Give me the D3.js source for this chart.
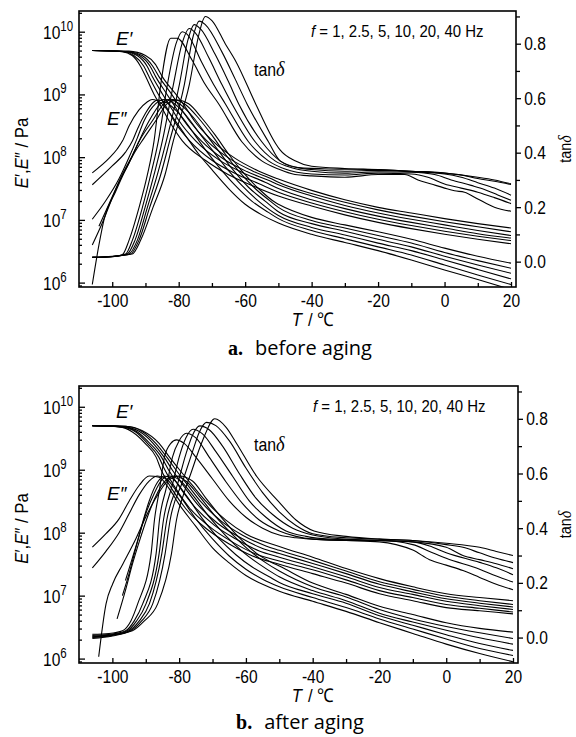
<!DOCTYPE html>
<html>
<head>
<meta charset="utf-8">
<script src="https://cdn.jsdelivr.net/npm/d3@7"></script>
<style>
  body { margin: 0; background: #fff; }
  svg { display: block; }
</style>
</head>
<body>
<svg id="chart" width="576" height="737"></svg>
<script>
const freqs = [1, 2.5, 5, 10, 20, 40];
const tempTicks = [-100, -80, -60, -40, -20, 0, 20];
const tempMinor = [-90, -70, -50, -30, -10, 10];
const tanTicks = [0.0, 0.2, 0.4, 0.6, 0.8];
const tanMinor = [0.1, 0.3, 0.5, 0.7, 0.9];
const modExponents = [6, 7, 8, 9, 10];

// log10(E' / Pa) vs T, one array per frequency (1 ... 40 Hz), before aging
const beforeStorageLog = [
  [[-106,9.70],[-97,9.68],[-94,9.62],[-91.5,9.45],[-89.9,9.28],[-87.4,9.0],[-85,8.78],[-82.9,8.58],[-78.9,8.26],[-72,7.95],[-65,7.72],[-58,7.55],[-50,7.38],[-40,7.22],[-30,7.08],[-20,6.96],[-10,6.86],[0,6.77],[10,6.69],[20,6.62]],
  [[-106,9.70],[-96.5,9.68],[-93.5,9.62],[-90.5,9.45],[-88.9,9.28],[-86.1,9.0],[-83.5,8.78],[-81.4,8.58],[-76.7,8.26],[-70,7.95],[-63,7.74],[-56,7.58],[-50,7.44],[-40,7.27],[-30,7.13],[-20,7.01],[-10,6.91],[0,6.82],[10,6.74],[20,6.67]],
  [[-106,9.70],[-96,9.68],[-92.5,9.62],[-89.5,9.45],[-87.9,9.28],[-84.8,9.0],[-82.2,8.78],[-79.9,8.58],[-74.9,8.26],[-68,7.96],[-61,7.76],[-54,7.6],[-50,7.5],[-40,7.32],[-30,7.18],[-20,7.06],[-10,6.96],[0,6.87],[10,6.78],[20,6.71]],
  [[-106,9.70],[-95.5,9.68],[-91.8,9.62],[-88.6,9.45],[-86.9,9.28],[-83.5,9.0],[-80.8,8.78],[-78.4,8.58],[-73.2,8.26],[-66.5,7.97],[-59.5,7.77],[-53,7.63],[-50,7.56],[-40,7.38],[-30,7.23],[-20,7.11],[-10,7.01],[0,6.92],[10,6.83],[20,6.75]],
  [[-106,9.70],[-95,9.68],[-91,9.62],[-87.8,9.45],[-85.9,9.28],[-82.1,9.0],[-79.4,8.78],[-76.8,8.58],[-71.5,8.26],[-64.8,7.98],[-57.8,7.78],[-51.5,7.64],[-50,7.6],[-40,7.42],[-30,7.28],[-20,7.16],[-10,7.06],[0,6.97],[10,6.89],[20,6.81]],
  [[-106,9.70],[-95,9.69],[-90,9.62],[-87,9.48],[-84.9,9.28],[-80.8,9.0],[-78,8.8],[-75.3,8.58],[-69.8,8.26],[-63,7.98],[-56,7.78],[-50,7.65],[-40,7.47],[-30,7.32],[-20,7.2],[-10,7.11],[0,7.02],[10,6.94],[20,6.87]]
];

// log10(E'' / Pa), before aging
const beforeLossLog = [
  [[-106,7.75],[-101,7.98],[-98.5,8.13],[-96.9,8.26],[-94.9,8.5],[-92,8.75],[-89.5,8.88],[-88,8.92],[-85,8.85],[-82,8.65],[-78,8.35],[-74,8.05],[-70,7.8],[-65,7.5],[-60,7.25],[-55,7.08],[-50,6.95],[-40,6.77],[-30,6.64],[-20,6.51],[-10,6.36],[0,6.2],[10,6.05],[20,5.89]],
  [[-106,7.56],[-100,7.86],[-96,8.08],[-93.9,8.26],[-92.4,8.45],[-90,8.7],[-87.5,8.88],[-86.4,8.91],[-84,8.88],[-80,8.7],[-76,8.42],[-72,8.12],[-68,7.85],[-63,7.55],[-58,7.3],[-53,7.12],[-50,7.02],[-40,6.83],[-30,6.7],[-20,6.57],[-10,6.44],[0,6.28],[10,6.12],[20,5.97]],
  [[-106,7.01],[-102,7.3],[-98,7.65],[-95,7.99],[-92.5,8.3],[-90.4,8.58],[-87,8.85],[-84.4,8.92],[-82,8.88],[-78,8.68],[-74,8.4],[-70,8.12],[-66,7.85],[-61,7.55],[-56,7.3],[-50,7.07],[-40,6.88],[-30,6.76],[-20,6.63],[-10,6.51],[0,6.36],[10,6.21],[20,6.06]],
  [[-104,6.9],[-101,7.25],[-98,7.6],[-95,7.9],[-92,8.25],[-88.9,8.58],[-85.5,8.85],[-83,8.92],[-80,8.86],[-76,8.66],[-72,8.38],[-68,8.1],[-64,7.82],[-59,7.52],[-54,7.3],[-50,7.13],[-40,6.94],[-30,6.82],[-20,6.69],[-10,6.57],[0,6.42],[10,6.28],[20,6.15]],
  [[-106,6.6],[-103,6.95],[-100,7.35],[-97,7.72],[-94,8.02],[-91.4,8.3],[-87.9,8.58],[-84.5,8.85],[-81.8,8.92],[-78,8.84],[-74,8.62],[-70,8.35],[-66,8.05],[-62,7.78],[-57,7.5],[-52,7.28],[-50,7.2],[-40,6.99],[-30,6.87],[-20,6.75],[-10,6.63],[0,6.48],[10,6.35],[20,6.23]],
  [[-106,5.97],[-104,6.6],[-102.4,7.02],[-99,7.45],[-96,7.8],[-93,8.1],[-90.5,8.3],[-86.9,8.58],[-83.5,8.85],[-80.5,8.91],[-77,8.85],[-73,8.62],[-69,8.35],[-65,8.05],[-61,7.78],[-56,7.5],[-51,7.28],[-50,7.25],[-40,7.04],[-30,6.92],[-20,6.81],[-10,6.69],[0,6.55],[10,6.42],[20,6.31]]
];

// tan delta, before aging
const beforeTan = [
  [[-106,0.015],[-100,0.018],[-97,0.025],[-94.9,0.08],[-91.9,0.2],[-89.4,0.32],[-87.4,0.444],[-85.4,0.65],[-82.4,0.82],[-80.5,0.82],[-76,0.74],[-72,0.65],[-67.9,0.578],[-61,0.44],[-55,0.37],[-50,0.34],[-45,0.32],[-40,0.315],[-30,0.31],[-20,0.32],[-12,0.32],[-8,0.3],[-4,0.285],[0,0.27],[3,0.26],[6,0.255],[10,0.23],[15,0.2],[20,0.185]],
  [[-106,0.016],[-100,0.019],[-96,0.028],[-93.9,0.08],[-90.9,0.2],[-88.4,0.32],[-86.1,0.444],[-83.4,0.65],[-80.8,0.8],[-78.9,0.844],[-77.5,0.835],[-73,0.73],[-69,0.64],[-65.9,0.578],[-59,0.44],[-53,0.37],[-48,0.34],[-40,0.322],[-30,0.318],[-20,0.325],[-10,0.322],[-5,0.31],[0,0.285],[5,0.27],[10,0.255],[15,0.235],[20,0.213]],
  [[-106,0.016],[-100,0.019],[-95.5,0.028],[-93.1,0.08],[-90.1,0.2],[-87.4,0.32],[-84.9,0.444],[-81.6,0.65],[-79,0.8],[-76.8,0.856],[-75,0.84],[-71,0.75],[-67,0.65],[-63.9,0.578],[-57,0.44],[-51,0.37],[-46,0.345],[-40,0.332],[-30,0.325],[-20,0.33],[-10,0.328],[-3,0.32],[2,0.3],[8,0.28],[12,0.265],[16,0.245],[20,0.225]],
  [[-106,0.015],[-100,0.018],[-95,0.028],[-92.4,0.08],[-89.4,0.2],[-86.4,0.32],[-83.7,0.444],[-79.8,0.65],[-77.3,0.81],[-75.3,0.87],[-73.5,0.855],[-69,0.76],[-65,0.66],[-61.9,0.578],[-55,0.44],[-49.5,0.37],[-44,0.345],[-40,0.338],[-30,0.332],[-20,0.335],[-10,0.33],[0,0.322],[5,0.31],[10,0.29],[15,0.27],[20,0.244]],
  [[-106,0.016],[-100,0.019],[-94.5,0.028],[-91.9,0.08],[-88.7,0.2],[-85.4,0.32],[-82.7,0.444],[-78.3,0.65],[-75.8,0.82],[-73.8,0.883],[-72,0.87],[-67,0.77],[-63,0.67],[-59.4,0.578],[-53,0.44],[-49.5,0.37],[-44,0.345],[-35,0.34],[-20,0.338],[-10,0.332],[0,0.325],[5,0.318],[10,0.305],[15,0.295],[20,0.283]],
  [[-106,0.017],[-100,0.02],[-94,0.028],[-91.4,0.08],[-87.7,0.2],[-84.1,0.32],[-81.6,0.444],[-76.8,0.65],[-74,0.83],[-72,0.9],[-70,0.885],[-66,0.8],[-62.8,0.735],[-56.8,0.578],[-50.8,0.433],[-49.5,0.41],[-45,0.37],[-40,0.35],[-30,0.342],[-20,0.338],[-10,0.332],[0,0.325],[10,0.31],[15,0.3],[20,0.286]]
];

// log10(E' / Pa), after aging
const afterStorageLog = [
  [[-106,9.70],[-98,9.68],[-94,9.6],[-90.2,9.42],[-86.9,9.2],[-85.4,9.0],[-82,8.68],[-78,8.38],[-72,8.07],[-65,7.82],[-58,7.63],[-50,7.5],[-40,7.35],[-30,7.2],[-20,7.03],[-10,6.92],[0,6.81],[10,6.76],[20,6.71]],
  [[-106,9.70],[-97.5,9.68],[-93,9.6],[-89.5,9.42],[-86.1,9.2],[-84.3,9.0],[-81,8.7],[-77,8.4],[-71,8.1],[-64,7.85],[-57,7.66],[-50,7.55],[-40,7.41],[-30,7.25],[-20,7.08],[-10,6.97],[0,6.86],[10,6.8],[20,6.74]],
  [[-106,9.70],[-97,9.68],[-92.5,9.6],[-88.8,9.42],[-85.3,9.2],[-83.2,9.0],[-79.8,8.72],[-75.5,8.42],[-69.5,8.12],[-63,7.9],[-56,7.71],[-50,7.61],[-40,7.46],[-30,7.3],[-20,7.13],[-10,7.02],[0,6.91],[10,6.84],[20,6.78]],
  [[-106,9.70],[-96.5,9.68],[-92,9.61],[-87.8,9.42],[-84.5,9.2],[-82.1,9.0],[-78.5,8.73],[-74.5,8.45],[-68.5,8.15],[-62,7.93],[-55,7.75],[-50,7.67],[-40,7.51],[-30,7.35],[-20,7.18],[-10,7.06],[0,6.95],[10,6.88],[20,6.82]],
  [[-106,9.70],[-96,9.69],[-91.5,9.62],[-87,9.42],[-83.7,9.2],[-81,9.0],[-77.2,8.74],[-73.3,8.48],[-67.3,8.18],[-61,7.96],[-54,7.79],[-50,7.72],[-40,7.56],[-30,7.39],[-20,7.22],[-10,7.1],[0,6.99],[10,6.92],[20,6.86]],
  [[-106,9.70],[-96,9.69],[-91,9.62],[-86,9.42],[-82.9,9.2],[-79.9,9.0],[-76,8.75],[-72,8.5],[-66,8.2],[-60,7.98],[-50,7.78],[-40,7.61],[-30,7.43],[-20,7.27],[-10,7.14],[0,7.03],[10,6.97],[20,6.92]]
];

// log10(E'' / Pa), after aging
const afterLossLog = [
  [[-106,7.77],[-102,7.98],[-98,8.22],[-95,8.5],[-92,8.75],[-89,8.9],[-86,8.88],[-83,8.7],[-80,8.45],[-75,8.1],[-70,7.76],[-65,7.52],[-60,7.32],[-55,7.18],[-50,7.07],[-40,6.91],[-30,6.75],[-20,6.57],[-10,6.4],[0,6.23],[10,6.08],[20,5.95]],
  [[-106,7.44],[-102,7.7],[-98,8.0],[-95,8.3],[-92,8.6],[-89,8.82],[-86.5,8.9],[-84,8.86],[-80,8.6],[-75,8.22],[-70,7.9],[-65,7.63],[-60,7.42],[-55,7.26],[-50,7.14],[-40,6.97],[-30,6.81],[-20,6.63],[-10,6.47],[0,6.31],[10,6.16],[20,6.05]],
  [[-97,7.0],[-95,7.35],[-93,7.75],[-91,8.15],[-89,8.5],[-86.5,8.8],[-84.5,8.9],[-82,8.86],[-78,8.6],[-73,8.22],[-68,7.9],[-63,7.65],[-58,7.45],[-53,7.3],[-50,7.21],[-40,7.03],[-30,6.88],[-20,6.68],[-10,6.53],[0,6.38],[10,6.24],[20,6.13]],
  [[-96.1,7.24],[-94,7.6],[-92,7.95],[-90,8.3],[-87.5,8.62],[-85,8.85],[-83,8.9],[-80,8.84],[-76,8.6],[-71,8.25],[-66,7.95],[-61,7.7],[-56,7.5],[-51,7.33],[-50,7.3],[-40,7.08],[-30,6.92],[-20,6.72],[-10,6.58],[0,6.45],[10,6.33],[20,6.23]],
  [[-98.6,6.63],[-96,7.1],[-94,7.5],[-92,7.85],[-89.5,8.25],[-87,8.58],[-84,8.83],[-81.5,8.9],[-78,8.82],[-74,8.58],[-69,8.25],[-64,7.97],[-59,7.72],[-54,7.52],[-50,7.39],[-40,7.14],[-30,6.98],[-20,6.78],[-10,6.63],[0,6.51],[10,6.41],[20,6.32]],
  [[-104.1,6.03],[-101.9,6.87],[-99.9,7.19],[-96.9,7.5],[-93,7.9],[-90,8.25],[-87,8.55],[-83.5,8.82],[-80,8.9],[-76,8.82],[-72,8.55],[-67,8.22],[-62,7.92],[-57,7.68],[-52,7.52],[-50,7.47],[-40,7.2],[-30,7.02],[-20,6.83],[-10,6.7],[0,6.57],[10,6.48],[20,6.42]]
];

// tan delta, after aging
const afterTan = [
  [[-106,0.012],[-101,0.015],[-97,0.025],[-94.5,0.06],[-92.4,0.124],[-88.4,0.307],[-87.4,0.43],[-85.9,0.54],[-84.4,0.66],[-82.5,0.71],[-80.8,0.723],[-78.5,0.71],[-75,0.66],[-70,0.58],[-65,0.5],[-60,0.44],[-55,0.4],[-50,0.375],[-45,0.365],[-40,0.36],[-30,0.355],[-20,0.35],[-15,0.34],[-10,0.32],[-5,0.285],[0,0.265],[5,0.245],[10,0.22],[15,0.195],[20,0.175]],
  [[-106,0.008],[-100,0.013],[-96,0.025],[-93.5,0.06],[-90.9,0.124],[-86.9,0.307],[-85.9,0.43],[-83.8,0.55],[-82,0.66],[-80,0.72],[-77.8,0.747],[-75,0.73],[-71,0.66],[-66,0.57],[-61,0.49],[-56,0.43],[-50,0.39],[-45,0.37],[-40,0.36],[-30,0.355],[-20,0.355],[-10,0.34],[-5,0.315],[0,0.29],[10,0.25],[15,0.225],[20,0.203]],
  [[-106,0.003],[-100,0.01],[-95.5,0.025],[-92.8,0.06],[-89.9,0.124],[-86,0.307],[-84.7,0.43],[-82,0.56],[-80,0.66],[-78,0.73],[-75.8,0.762],[-73,0.745],[-69,0.68],[-64,0.59],[-59,0.5],[-54,0.44],[-48,0.39],[-42,0.37],[-35,0.36],[-20,0.355],[-10,0.35],[-5,0.335],[0,0.31],[10,0.275],[15,0.255],[20,0.23]],
  [[-106,0.0],[-100,0.008],[-95,0.025],[-92,0.06],[-88.9,0.124],[-85.2,0.307],[-83.7,0.43],[-80.5,0.56],[-78,0.67],[-76,0.74],[-73.8,0.774],[-71,0.76],[-67,0.7],[-62,0.6],[-57,0.51],[-52,0.45],[-46,0.4],[-40,0.375],[-30,0.36],[-20,0.355],[-10,0.35],[0,0.33],[5,0.3],[10,0.285],[15,0.27],[20,0.252]],
  [[-106,-0.003],[-100,0.006],[-94.5,0.025],[-91.3,0.06],[-87.9,0.124],[-84.2,0.307],[-82.7,0.43],[-79,0.57],[-76,0.68],[-74,0.75],[-71.8,0.787],[-69,0.775],[-65,0.72],[-60,0.62],[-55,0.53],[-50,0.46],[-45,0.41],[-40,0.38],[-30,0.365],[-20,0.36],[-10,0.355],[0,0.34],[5,0.33],[10,0.31],[15,0.29],[20,0.274]],
  [[-106,0.005],[-100,0.01],[-94,0.025],[-90.5,0.06],[-86.4,0.124],[-82.3,0.307],[-80.8,0.43],[-78.5,0.53],[-76.5,0.6],[-73,0.72],[-69.3,0.8],[-66,0.77],[-62.8,0.71],[-56.8,0.59],[-50.4,0.5],[-45,0.43],[-39.6,0.39],[-30,0.37],[-20,0.36],[-10,0.355],[0,0.345],[10,0.33],[15,0.315],[20,0.3]]
];

const panels = [
  {id: "a", caption: "before aging", storage: beforeStorageLog, loss: beforeLossLog, tan: beforeTan,
   top: 11, bottom: 287, left: 79, right: 516, titleGap: 39, capGap: 68},
  {id: "b", caption: "after aging", storage: afterStorageLog, loss: afterLossLog, tan: afterTan,
   top: 386, bottom: 663, left: 79, right: 518, titleGap: 39, capGap: 66}
];

const svg = d3.select("#chart");
const sans = "'Liberation Sans', Arial, sans-serif";
const squeeze = "scale(0.82,1)";

panels.forEach(drawPanel);

function drawPanel(p) {
  const x = d3.scaleLinear().domain([-110, 21.5]).range([p.left, p.right]);
  const yE = d3.scaleLog().domain([10 ** 5.93, 10 ** 10.33]).range([p.bottom, p.top]);
  const yT = d3.scaleLinear().domain([-0.093, 0.92]).range([p.bottom, p.top]);

  const g = svg.append("g");

  g.append("clipPath").attr("id", "clip-" + p.id)
    .append("rect")
    .attr("x", p.left).attr("y", p.top)
    .attr("width", p.right - p.left).attr("height", p.bottom - p.top);

  const lineE = d3.line()
    .x(d => x(d[0]))
    .y(d => yE(10 ** d[1]))
    .curve(d3.curveMonotoneX);

  const lineT = d3.line()
    .x(d => x(d[0]))
    .y(d => yT(d[1]))
    .curve(d3.curveMonotoneX);

  const curves = g.append("g").attr("clip-path", `url(#clip-${p.id})`)
    .attr("fill", "none").attr("stroke", "#000").attr("stroke-width", 1.1);

  curves.selectAll(".storage").data(p.storage).join("path")
    .attr("class", "storage").attr("d", lineE);
  curves.selectAll(".loss").data(p.loss).join("path")
    .attr("class", "loss").attr("d", lineE);
  curves.selectAll(".tan").data(p.tan).join("path")
    .attr("class", "tan").attr("d", lineT);

  // left log axis, ticks pointing into the plot
  const minorE = [9e5];
  modExponents.forEach(e => {
    for (let m = 2; m <= 9; m++) {
      const v = m * 10 ** e;
      if (v < 10 ** 10.33) minorE.push(v);
    }
  });

  const leftMinor = g.append("g").attr("transform", `translate(${p.left},0)`)
    .call(d3.axisLeft(yE).tickValues(minorE).tickSizeInner(-3).tickSizeOuter(0).tickFormat(""));
  const leftMajor = g.append("g").attr("transform", `translate(${p.left},0)`)
    .call(d3.axisLeft(yE).tickValues(modExponents.map(e => 10 ** e)).tickSizeInner(-6).tickSizeOuter(0).tickFormat(""));
  [leftMinor, leftMajor].forEach(a => {
    a.select(".domain").remove();
    a.selectAll("line").attr("stroke-width", 1.3);
  });

  const expLabels = g.selectAll(".exp-label").data(modExponents).join("text")
    .attr("class", "exp-label")
    .attr("transform", e => `translate(43,${yE(10 ** e) + 7}) ${squeeze}`)
    .style("font-family", sans)
    .style("font-size", "19px");
  expLabels.append("tspan").text("10");
  expLabels.append("tspan").attr("dy", -8).style("font-size", "14px").text(e => e);

  // bottom temperature axis
  const bottomMinor = g.append("g").attr("transform", `translate(0,${p.bottom})`)
    .call(d3.axisBottom(x).tickValues(tempMinor).tickSizeInner(-4).tickSizeOuter(0).tickFormat(""));
  const bottomMajor = g.append("g").attr("transform", `translate(0,${p.bottom})`)
    .call(d3.axisBottom(x).tickValues(tempTicks).tickSizeInner(-5).tickSizeOuter(0).tickPadding(7)
      .tickFormat(d => String(d)));
  [bottomMinor, bottomMajor].forEach(a => {
    a.select(".domain").remove();
    a.selectAll("line").attr("stroke-width", 1.3);
  });
  bottomMajor.selectAll("text")
    .attr("transform", squeeze)
    .style("font-family", sans).style("font-size", "19px");

  // right tan delta axis, ticks pointing outward
  const rightMinor = g.append("g").attr("transform", `translate(${p.right},0)`)
    .call(d3.axisRight(yT).tickValues(tanMinor).tickSizeInner(4).tickSizeOuter(0).tickFormat(""));
  const rightMajor = g.append("g").attr("transform", `translate(${p.right},0)`)
    .call(d3.axisRight(yT).tickValues(tanTicks).tickSizeInner(5).tickSizeOuter(0).tickPadding(5)
      .tickFormat(d3.format(".1f")));
  [rightMinor, rightMajor].forEach(a => {
    a.select(".domain").remove();
    a.selectAll("line").attr("stroke-width", 1.3);
  });
  rightMajor.selectAll("text")
    .attr("transform", squeeze)
    .style("font-family", sans).style("font-size", "19px");

  // frame
  g.append("rect")
    .attr("x", p.left).attr("y", p.top)
    .attr("width", p.right - p.left).attr("height", p.bottom - p.top)
    .attr("fill", "none").attr("stroke", "#000").attr("stroke-width", 1.6);

  // axis titles
  const yTitle = g.append("text")
    .attr("transform", `translate(28,${(p.top + p.bottom) / 2 + 4}) rotate(-90) scale(0.88,1)`)
    .attr("text-anchor", "middle")
    .style("font-family", sans).style("font-size", "19px");
  yTitle.append("tspan").style("font-style", "italic").text("E");
  yTitle.append("tspan").text("′,");
  yTitle.append("tspan").style("font-style", "italic").text("E");
  yTitle.append("tspan").text("″ / Pa");

  const tTitle = g.append("text")
    .attr("transform", `translate(571,${(p.top + p.bottom) / 2}) rotate(-90) scale(0.85,1)`)
    .attr("text-anchor", "middle")
    .style("font-family", sans).style("font-size", "17px");
  tTitle.append("tspan").text("tan");
  tTitle.append("tspan").style("font-family", "'Liberation Serif', serif").style("font-style", "italic")
    .style("font-size", "19px").text("δ");

  // x title: italic T, then the unit as a separate text
  g.append("text")
    .attr("transform", `translate(302,${p.bottom + p.titleGap}) scale(0.88,1)`)
    .attr("text-anchor", "end")
    .style("font-family", sans).style("font-size", "19px").style("font-style", "italic")
    .text("T");
  g.append("text")
    .attr("transform", `translate(308,${p.bottom + p.titleGap}) scale(0.88,1)`)
    .style("font-family", sans).style("font-size", "19px")
    .text("/ ℃");

  // in-plot labels
  g.append("text")
    .attr("x", 116).attr("y", p.top + 34 + (p.id === "b" ? -2 : 0))
    .style("font-family", sans).style("font-size", "19px").style("font-style", "italic")
    .text("E′");
  g.append("text")
    .attr("x", 107).attr("y", p.top + 114)
    .style("font-family", sans).style("font-size", "19px").style("font-style", "italic")
    .text("E″");

  const tanLabel = g.append("text")
    .attr("transform", `translate(254,${p.top + 65}) scale(0.88,1)`)
    .style("font-family", sans).style("font-size", "18px");
  tanLabel.append("tspan").text("tan");
  tanLabel.append("tspan").style("font-family", "'Liberation Serif', serif").style("font-style", "italic")
    .style("font-size", "21px").text("δ");

  const fLabel = g.append("text")
    .attr("transform", `translate(${p.right - 205},${p.top + 26}) scale(0.88,1)`)
    .style("font-family", sans).style("font-size", "17px");
  fLabel.append("tspan").style("font-style", "italic").text("f");
  fLabel.append("tspan").text(" = " + freqs.join(", ") + " Hz");

  // caption
  const cap = g.append("text")
    .attr("x", 300).attr("y", p.bottom + p.capGap)
    .attr("text-anchor", "middle");
  cap.append("tspan").style("font-family", "'Liberation Serif', serif").style("font-weight", "bold")
    .style("font-size", "20px").text(p.id + ".");
  cap.append("tspan").attr("dx", 12).style("font-family", "'Open Sans', Lato, sans-serif")
    .style("font-size", "20px").text(p.caption);
}
</script>
</body>
</html>
